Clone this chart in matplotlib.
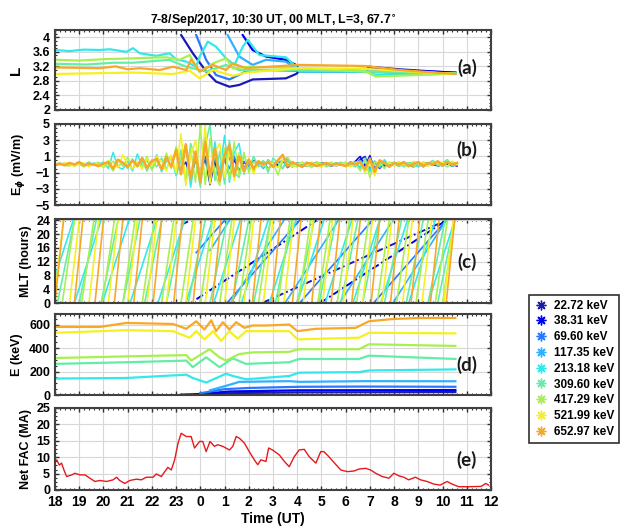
import numpy as np
import matplotlib.pyplot as plt
from matplotlib.lines import Line2D
from matplotlib.ticker import AutoMinorLocator

plt.rcParams['font.family'] = ['Liberation Sans', 'DejaVu Sans']
plt.rcParams['font.weight'] = 'bold'
plt.rcParams['axes.labelweight'] = 'bold'

# energy channels (low -> high)
energies = ['22.72 keV', '38.31 keV', '69.60 keV', '117.35 keV', '213.18 keV',
            '309.60 keV', '417.29 keV', '521.99 keV', '652.97 keV']
colors = ['#1a1ab4', '#0000f0', '#2a78ff', '#30b0ff', '#33e8ec',
          '#62eea8', '#a8f050', '#f5f020', '#f8a828']

# (a) L along drift path
la_t = [
    [23.21, 23.69, 24.24, 24.65, 25.2, 25.61, 26.16, 27.53, 27.95, 28.08, 30.83, 30.96, 32.2, 34.53],
    [25.75, 26.16, 26.71, 27.53, 27.95, 28.08, 30.83, 34.53],
    [23.83, 24.24, 24.65, 25.2, 25.89, 26.71, 28.08, 34.53],
    [25.13, 25.61, 26.16, 26.71, 27.53, 28.08, 30.83, 34.53],
    [18.0, 18.6, 19.2, 19.85, 20.26, 20.95, 21.22, 21.5, 22.18, 22.73, 23.0, 23.42, 23.83, 23.97,
     24.31, 24.65, 25.06, 25.41, 25.75, 25.96, 26.44, 27.53, 27.95, 28.08, 30.83, 31.24, 34.53],
    [18.0, 19.3, 20.4, 21.22, 22.73, 23.0, 23.42, 24.24, 25.06, 25.61, 28.08, 34.53],
    [18.0, 19.0, 20.1, 21.22, 22.6, 23.14, 23.56, 23.97, 24.52, 25.06, 25.34, 26.16, 28.08, 30.83,
     31.24, 34.53],
    [18.0, 19.6, 21.22, 22.87, 23.56, 23.97, 24.52, 25.34, 25.89, 28.08, 30.83, 34.53],
    [18.0, 19.85, 20.5, 21.0, 21.5, 22.32, 22.87, 23.42, 23.62, 23.97, 24.52, 25.06, 25.34, 25.89,
     28.08, 30.83, 32.2, 34.53],
]
la_v = [
    [4.06, 3.56, 3.06, 2.78, 2.64, 2.69, 2.84, 2.87, 2.99, 3.06, 3.06, 3.19, 3.12, 3.02],
    [4.06, 3.65, 3.47, 3.38, 3.24, 3.1, 3.13, 3.03],
    [4.06, 3.38, 2.96, 2.84, 3.06, 3.1, 3.08, 3.0],
    [4.06, 3.47, 3.24, 3.38, 3.33, 3.06, 3.06, 3.0],
    [3.65, 3.62, 3.66, 3.65, 3.67, 3.6, 3.7, 3.56, 3.49, 3.56, 3.39, 3.33, 3.19, 3.47,
     3.88, 3.74, 3.42, 3.24, 3.74, 3.93, 3.51, 3.45, 3.19, 3.06, 3.06, 2.96, 3.0],
    [3.27, 3.25, 3.3, 3.3, 3.38, 3.3, 3.19, 3.06, 3.24, 3.1, 3.1, 3.0],
    [3.38, 3.36, 3.4, 3.42, 3.45, 3.38, 3.51, 3.05, 3.28, 3.42, 3.15, 3.19, 3.15, 3.06,
     2.92, 3.0],
    [2.99, 3.01, 3.03, 2.99, 3.08, 2.87, 3.1, 2.94, 3.03, 3.15, 3.13, 2.99],
    [3.17, 3.15, 3.2, 3.12, 3.15, 3.1, 3.19, 3.1, 3.39, 3.06, 3.24, 3.1, 3.28, 3.15,
     3.24, 3.21, 3.1, 2.99],
]

# (b) E_phi, sampled every 0.2 h from the start time of each channel
eb_t0 = [23.2, 25.8, 23.8, 25.2, 18.0, 18.0, 18.0, 18.0, 18.0]
eb_v = [
    [-0.5, 0.3, -1.8, 0.6,
     -1.2, 0.8, -2.5, 0.4, -2.0, 1.0, -1.5, 0.6, -0.8, 0.3,
     -0.3, 0.5, -0.2, 0.4, -0.6, 0.2, 0.0, 0.3, 0.8, -0.2,
     0.1, -0.3, 0.2, 0.0, -0.2, 0.2, 0.1, -0.2, 0.0, 0.2,
     -0.1, 0.3, 0.0, 0.6, 1.0, -0.8, 0.4, -0.5, 0.2, 0.0,
     0.2, -0.2, 0.1, 0.0, -0.3, 0.2, 0.0, -0.1, 0.2, -0.2,
     0.0, 0.1, -0.2, 0.0],
    [-0.4,
     0.3, -0.6, 0.2, -0.3, 0.5, 0.0, -0.2, 0.4, 0.6, -0.3,
     0.2, 0.0, -0.2, 0.1, 0.2, -0.1, 0.0, 0.2, -0.2, 0.1,
     0.0, -0.2, 0.4, 1.0, -0.2, 1.1, -0.7, 0.3, -0.2, 0.1,
     0.0, 0.2, -0.1, 0.1, 0.0, -0.2, 0.1, 0.2, -0.1, 0.0,
     0.2, -0.1, 0.0, -0.2],
    [0.4,
     -0.9, 1.0, -1.6, 0.8, -1.2, 0.6, -0.5, 1.0, -0.9, 0.4,
     -0.2, 0.3, 0.1, -0.3, 0.4, -0.1, 0.2, 0.5, -0.4, 0.1,
     0.0, 0.2, -0.1, 0.1, -0.2, 0.0, 0.2, 0.0, -0.1, 0.2,
     0.1, -0.2, 0.2, 0.5, -0.6, 0.8, -0.4, 0.2, 0.0, -0.2,
     0.2, 0.0, -0.1, 0.2, 0.1, -0.2, 0.0, 0.1, 0.2, -0.1,
     0.0, 0.2, -0.1, 0.1],
    [0.8, -1.0, 1.4, -0.6,
     0.6, -0.4, 0.2, -0.5, 0.3, 0.1, -0.3, 0.6, 0.4, -0.2,
     0.1, 0.2, -0.2, 0.0, 0.3, -0.1, 0.1, -0.2, 0.2, 0.0,
     -0.2, 0.1, 0.3, -0.4, 0.6, -0.5, 0.2, -0.4, 0.3, 0.0,
     0.1, -0.2, 0.3, 0.0, -0.1, 0.2, -0.3, 0.1, 0.3, 0.0,
     -0.2, 0.4, 0.1, -0.1],
    [-0.1, 0.1, 0.0, 0.2, -0.2, 0.1, 0.0, 0.3, -0.1, 0.0,
     0.3, -0.5, 1.5, -0.3, -0.6, 0.4, -0.8, 1.3, -0.2, 0.5,
     -0.6, 1.2, -0.9, 0.4, 1.0, -1.4, 0.6, 2.4, -2.8, 1.2,
     -1.6, 3.4, -2.2, 2.8, -1.0, 3.6, -2.2, 1.5, 2.6, -1.2,
     0.5, -0.8, 0.3, -0.4, 0.6, -0.2, 0.3, -0.5, 0.7, 0.1,
     -0.2, 0.3, -0.1, 0.2, 0.0, -0.3, 0.2, 0.1, -0.2, 0.3,
     -0.1, 0.2, 0.3, -0.5, 0.8, -0.9, 0.4, -0.3, 0.6, -0.2,
     0.1, 0.3, -0.2, 0.2, 0.0, -0.3, 0.3, 0.1, 0.5, -0.2,
     0.2, 0.6, -0.2, 0.0],
    [0.1, 0.0, 0.2, -0.1, 0.0, 0.2, 0.0, -0.2, 0.2, 0.1,
     0.0, -0.3, 0.4, -0.2, 0.3, -0.5, 0.7, -0.3, 0.4, -0.8,
     0.6, -0.3, 0.8, -0.6, 1.0, -1.2, 1.8, -2.2, 2.6, 0.8,
     -2.8, 2.2, 5.0, -2.0, 1.6, -2.4, 3.0, -1.0, -1.6, 1.2,
     -0.6, 1.0, -0.3, 0.5, -1.0, 0.8, 0.2, -0.5, 0.6, -0.2,
     0.2, -0.1, 0.3, -0.2, 0.1, 0.2, -0.3, 0.0, 0.2, -0.1,
     0.1, 0.0, -0.3, 0.3, -1.0, 0.8, -1.2, 0.4, -0.5, 0.3,
     0.0, 0.2, -0.3, 0.1, 0.3, -0.2, 0.1, 0.2, -0.1, 0.3,
     0.0, -0.3, 0.2, 0.1],
    [0.0, 0.2, -0.1, -0.2, 0.1, 0.0, -0.3, 0.2, -0.1, 0.3,
     -0.4, 0.2, -0.8, 0.5, -0.2, 0.9, -0.6, 0.3, -0.3, 1.0,
     -0.7, 0.5, -0.4, 1.4, -0.5, 2.2, 0.5, -1.5, 2.0, -2.2,
     4.8, -2.5, 3.2, -1.2, -2.6, 2.0, -1.8, 2.8, -1.4, 1.5,
     -1.0, 0.4, -0.2, 0.2, -0.6, 0.3, -1.3, 0.4, 0.9, 0.0,
     -0.3, 0.2, 0.0, -0.4, 0.3, 0.1, -0.2, 0.3, -0.1, 0.0,
     0.3, -0.2, 0.1, -0.8, 0.6, -1.6, 0.3, 0.2, -0.4, 0.1,
     0.3, -0.2, 0.0, 0.2, -0.3, 0.3, 0.0, -0.2, 0.4, 0.1,
     -0.2, 0.5, -0.1, 0.2],
    [0.1, -0.1, 0.2, 0.0, -0.2, 0.1, 0.2, -0.3, 0.1, 0.0,
     -0.2, 0.5, 0.2, -0.4, 1.2, 0.0, -0.5, 0.4, -0.6, 0.7,
     -0.2, 1.0, 0.3, -0.8, 1.2, -1.0, 3.8, -2.6, 1.0, 3.0,
     -1.8, 4.8, -2.4, 1.5, 2.6, -1.6, 1.8, -2.0, 1.4, -1.0,
     0.8, -1.2, 0.5, -0.2, 0.4, 0.1, -0.4, 0.6, 0.2, -0.3,
     0.1, 0.2, -0.2, 0.3, 0.0, -0.3, 0.2, 0.1, -0.2, 0.2,
     0.0, -0.3, 0.2, 0.4, -1.0, 0.3, -1.4, 0.6, 0.1, 0.2,
     -0.2, 0.3, 0.0, -0.3, 0.4, 0.1, 0.3, -0.2, 0.2, 0.1,
     0.3, -0.2, 0.4, 0.0],
    [0.0, 0.1, -0.1, 0.2, 0.0, 0.3, -0.1, 0.1, 0.0, -0.2,
     0.1, 0.3, -0.5, 0.6, 0.2, -0.3, 0.5, -0.2, 0.8, -0.4,
     0.4, 0.7, -0.6, 0.9, -0.3, 1.8, -1.2, 2.5, -1.8, 1.6,
     -2.2, 2.8, -1.5, 2.0, -2.0, 1.2, 2.4, -1.4, 1.0, -0.8,
     0.6, -0.5, 0.4, 0.0, 0.3, -0.3, 0.5, 1.2, -0.2, 0.3,
     0.0, -0.3, 0.2, 0.1, -0.2, 0.0, 0.2, -0.1, 0.1, 0.0,
     -0.2, 0.2, 0.0, 0.3, -0.6, 0.7, -0.9, 0.5, 0.2, -0.3,
     0.2, 0.0, 0.3, -0.2, 0.1, 0.3, -0.2, 0.2, 0.0, 0.4,
     -0.1, 0.3, 0.0, 0.2],
]
eb_step = 0.2

# (c) MLT: times where each drift sweep leaves 00 MLT, sweep length (h), trace start
mlt_starts = [
    [16.0, 26.55],
    [23.6, 28.95],
    [22.0, 25.1, 28.1, 31.15],
    [23.0, 25.25, 27.5, 29.75, 31.95],
    [17.65, 18.8, 19.95, 21.1, 22.25, 23.4, 24.55, 25.7, 26.85, 28.0, 29.15, 30.3, 31.45, 32.6, 33.4],
    [18.1, 19.0, 19.9, 20.8, 21.7, 22.6, 23.5, 24.4, 25.3, 26.2, 27.1, 28.0, 28.9, 29.8, 30.7, 31.6,
     32.5, 33.4, 33.8],
    [18.3, 19.1, 19.95, 20.8, 21.6, 22.4, 23.2, 24.0, 24.8, 25.6, 26.4, 27.2, 28.05, 28.85, 29.65,
     30.45, 31.3, 32.1, 32.9, 33.7, 34.0],
    [17.95, 18.6, 19.4, 20.2, 21.0, 21.8, 22.6, 23.4, 24.2, 25.0, 25.8, 26.6, 27.45, 28.25, 29.05,
     29.9, 30.7, 31.5, 32.35, 33.15, 34.05],
    [18.0, 18.8, 19.65, 20.45, 21.25, 22.05, 22.9, 23.7, 24.5, 25.35, 26.15, 26.95, 27.8, 28.6, 29.4,
     30.25, 31.05, 31.85, 32.7, 33.5, 34.15],
]
mlt_sweep = [7.6, 5.2, 3.0, 2.2, 1.1, 0.7, 0.5, 0.4, 0.35]
mlt_first = [23.2, 23.84, 23.83, 24.4, 18.0, 18.0, 18.0, 18.0, 18.0]

# (d) energy along drift path
ed_t = [
    [23.2, 24.5, 26.0, 28.08, 34.53],
    [23.8, 25.2, 28.08, 34.53],
    [24.0, 25.0, 26.0, 28.08, 30.83, 34.53],
    [24.4, 25.06, 25.61, 27.67, 28.08, 30.83, 34.53],
    [18.0, 20.95, 23.42, 23.69, 24.24, 25.06, 25.34, 25.89, 27.67, 28.08, 30.55, 30.96, 34.53],
    [18.0, 20.95, 23.42, 23.69, 24.24, 24.79, 25.34, 25.89, 27.67, 28.08, 30.55, 30.96, 34.53],
    [18.0, 20.95, 23.42, 23.62, 24.38, 24.79, 25.06, 25.61, 26.16, 27.67, 28.08, 30.55, 30.96, 34.53],
    [18.0, 20.95, 22.87, 23.56, 23.83, 24.17, 24.52, 24.86, 25.2, 25.54, 25.89, 27.67, 28.01, 30.55,
     30.96, 34.53],
    [18.0, 19.85, 20.95, 22.87, 23.42, 23.83, 24.17, 24.45, 24.65, 24.93, 25.2, 25.48, 25.82, 26.16,
     26.71, 27.67, 28.01, 28.77, 30.41, 30.69, 30.96, 31.92, 33.02, 34.53],
]
ed_v = [
    [3, 12, 18, 22, 25],
    [5, 30, 40, 42],
    [15, 50, 60, 70, 72, 70],
    [40, 78, 112, 118, 112, 118, 117],
    [140, 145, 173, 145, 106, 181, 162, 134, 162, 190, 195, 209, 218],
    [265, 279, 293, 237, 321, 237, 312, 265, 279, 307, 307, 335, 307],
    [315, 329, 340, 293, 390, 321, 293, 349, 363, 368, 390, 390, 432, 418],
    [530, 552, 544, 488, 544, 474, 544, 460, 544, 480, 544, 544, 474, 488, 530, 525],
    [580, 580, 614, 605, 564, 628, 558, 636, 544, 620, 558, 620, 572, 592, 592, 600, 544, 564,
     572, 600, 628, 647, 656, 656],
]

# (e) net field-aligned current
fac_t = [18.0, 18.07, 18.18, 18.27, 18.37, 18.48, 18.69, 18.82, 19.03, 19.24, 19.44, 19.65, 19.85,
         20.13, 20.4, 20.54, 20.67, 20.88, 21.09, 21.36, 21.57, 21.77, 22.05, 22.18, 22.39, 22.53,
         22.66, 22.8, 22.94, 23.08, 23.21, 23.42, 23.62, 23.76, 23.97, 24.1, 24.24, 24.4, 24.58,
         24.72, 24.93, 25.2, 25.34, 25.48, 25.61, 25.82, 26.02, 26.23, 26.37, 26.5, 26.71, 26.82,
         26.98, 27.26, 27.47, 27.67, 27.88, 28.08, 28.29, 28.49, 28.77, 28.97, 29.1, 29.3, 29.6,
         29.8, 30.07, 30.35, 30.55, 30.83, 31.03, 31.24, 31.51, 31.79, 31.99, 32.2, 32.4, 32.6,
         32.88, 33.09, 33.36, 33.64, 33.9, 34.19, 34.39, 34.67, 35.08, 35.6, 35.78, 35.9]
fac_v = [8.7, 9.2, 7.6, 8.2, 6.1, 4.1, 4.6, 5.1, 4.6, 4.6, 3.6, 2.6, 2.9, 2.6, 3.1, 3.9, 2.9, 2.0,
         2.9, 3.3, 3.1, 3.9, 3.9, 4.9, 4.1, 5.6, 6.9, 6.1, 9.2, 14.3, 17.3, 16.3, 16.3, 12.8, 14.8,
         14.8, 11.7, 14.8, 13.3, 13.8, 13.3, 12.2, 13.3, 16.3, 15.8, 14.3, 11.7, 9.2, 7.7, 9.2, 8.7,
         12.8, 12.2, 10.7, 8.7, 7.1, 10.2, 12.2, 12.4, 10.2, 8.2, 11.7, 11.7, 10.2, 7.7, 6.1, 5.6,
         5.8, 6.4, 6.6, 6.1, 5.1, 4.1, 3.6, 5.1, 4.3, 3.9, 3.1, 3.9, 3.1, 2.6, 1.8, 1.5, 2.6, 1.8,
         1.0, 1.0, 1.1, 2.0, 1.5]

hour_ticks = list(range(18, 37))
hour_labels = [str(h % 24) for h in hour_ticks]

fig = plt.figure(figsize=(6.4, 5.32), dpi=100)
left, width = 55 / 640, 436 / 640
tops = [30, 124, 219, 314, 408]
bots = [110, 205, 303, 395, 490]
axes = [fig.add_axes([left, 1 - b / 532, width, (b - t) / 532]) for t, b in zip(tops, bots)]

for ax in axes:
    ax.set_xlim(18, 36)
    ax.set_xticks(hour_ticks)
    ax.xaxis.set_minor_locator(AutoMinorLocator(5))
    ax.yaxis.set_minor_locator(AutoMinorLocator(4))
    ax.grid(True, color='#d8d8d8', linewidth=0.8)
    ax.set_axisbelow(True)
    ax.tick_params(which='both', direction='in', top=True, right=True, color='#303030',
                   labelsize=9)
    ax.tick_params(which='major', length=3, width=1)
    ax.tick_params(which='minor', length=1.6, width=0.8)
    for s in ax.spines.values():
        s.set_color('#404040')
        s.set_linewidth(1.5)
    if ax is not axes[-1]:
        ax.set_xticklabels([])

dashdot = (0, (4, 1.5, 1, 1.5))

# (a)
ax = axes[0]
for t, v, c in zip(la_t, la_v, colors):
    ax.plot(t, v, color=c, lw=1.6)
ax.set_ylim(2, 4.2)
ax.set_yticks([2, 2.4, 2.8, 3.2, 3.6, 4])
ax.set_yticklabels(['2', '2.4', '2.8', '3.2', '3.6', '4'])
ax.set_ylabel('L', fontsize=11)
ax.set_title('7-8/Sep/2017, 10:30 UT, 00 MLT, L=3, 67.7$^{\\circ}$', fontsize=8.8,
             fontweight='bold', pad=4)

# (b)
ax = axes[1]
for t0, v, c in zip(eb_t0, eb_v, colors):
    t = t0 + eb_step * np.arange(len(v))
    ax.plot(t, v, color=c, lw=1.8 if c == colors[-1] else 1.1)
ax.set_ylim(-5, 5)
ax.set_yticks([-5, -3, -1, 1, 3, 5])
ax.set_ylabel('E$_\\phi$ (mV/m)', fontsize=9)

# (c)
ax = axes[2]
for k, (starts, sw, tf, c) in enumerate(zip(mlt_starts, mlt_sweep, mlt_first, colors)):
    xs, ys = [], []
    for s in starts:
        t0, m0 = s, 0.0
        if t0 < tf:
            m0 = 24 * (tf - s) / sw
            t0 = tf
        xs += [t0, s + sw, np.nan]
        ys += [m0, 24, np.nan]
    ls = dashdot if k < 2 else '-'
    ax.plot(xs, ys, color=c, lw=1.4 if k < 2 else 1.2, linestyle=ls)
ax.set_ylim(0, 24.4)
ax.set_yticks(range(0, 25, 4))
ax.set_ylabel('MLT (hours)', fontsize=9)

# (d)
ax = axes[3]
for t, v, c in zip(ed_t, ed_v, colors):
    ax.plot(t, v, color=c, lw=1.6)
ax.set_ylim(0, 690)
ax.set_yticks([0, 200, 400, 600])
ax.set_ylabel('E (keV)', fontsize=9)

# (e)
ax = axes[4]
ax.plot(fac_t, fac_v, color='#e41a1c', lw=1.0)
ax.set_ylim(0, 25)
ax.set_yticks(range(0, 26, 5))
ax.set_xticklabels(hour_labels, fontsize=10)
ax.set_ylabel('Net FAC (MA)', fontsize=9)
ax.set_xlabel('Time (UT)', fontsize=10, labelpad=2)

label_x = [-0.073, -0.064, -0.053, -0.073, -0.053]
panel_y = [0.52, 0.68, 0.49, 0.37, 0.37]
for ax, lx, py, name in zip(axes, label_x, panel_y, 'abcde'):
    ax.yaxis.set_label_coords(lx, 0.5)
    ax.text(0.945, py, '(%s)' % name, transform=ax.transAxes, ha='center', va='center',
            fontsize=13.5, fontweight='bold', family=['Lato', 'DejaVu Sans'], color='#1a1a1a')

handles = [Line2D([], [], marker=(8, 2, 0), linestyle='none', color=c, markersize=7,
                  markeredgewidth=1.0) for c in colors]
leg = fig.legend(handles, energies, loc='upper left', bbox_to_anchor=(529 / 640, 1 - 295 / 532),
                 prop={'size': 8.5, 'weight': 'bold'}, labelspacing=0.32, handlelength=1.2,
                 handletextpad=0.5, borderpad=0.4, borderaxespad=0, fancybox=False,
                 framealpha=1)
leg.get_frame().set_edgecolor('#303030')
leg.get_frame().set_linewidth(1.2)

fig.savefig('out.png', dpi=100)
